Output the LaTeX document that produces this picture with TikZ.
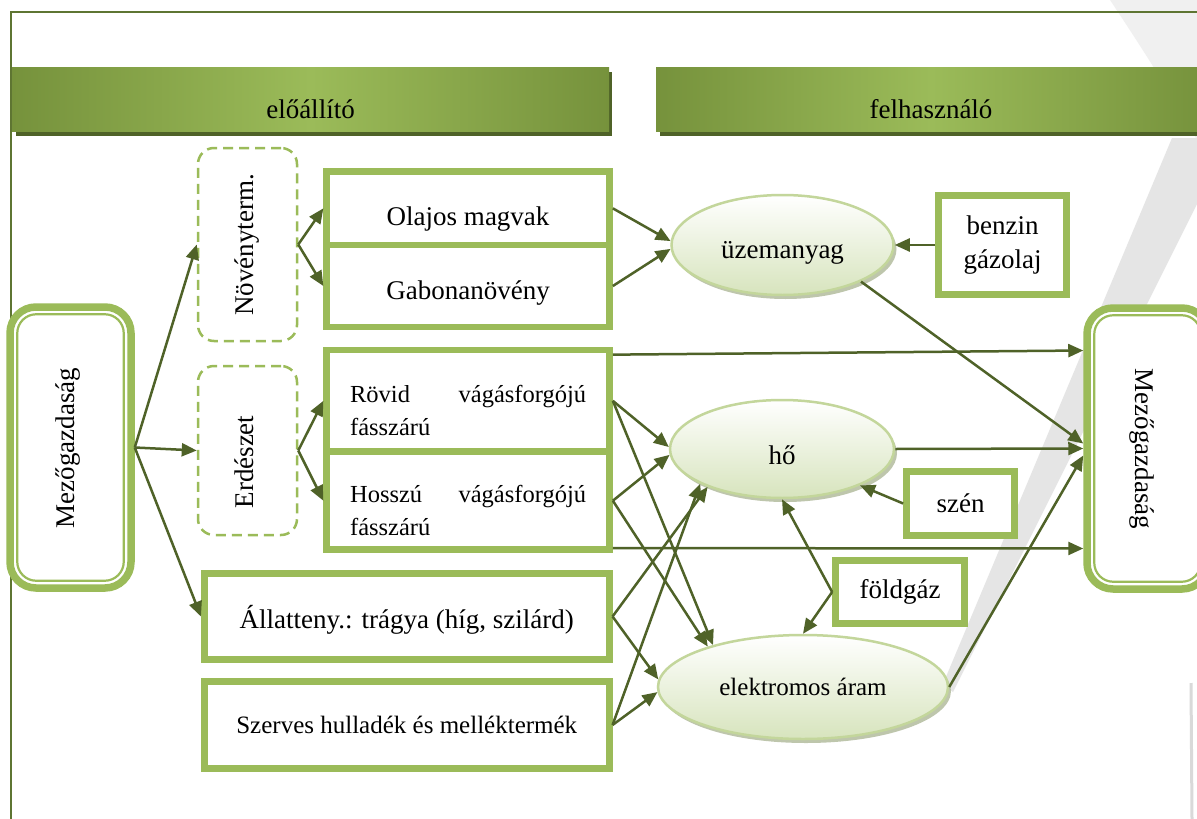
\documentclass[tikz,border=0pt]{standalone}
\usepackage{fontspec}
\setmainfont{Liberation Serif}
\usetikzlibrary{arrows.meta,shapes.geometric,shadows}
\definecolor{grn}{HTML}{9BBB59}
\definecolor{arr}{HTML}{4F6228}
\definecolor{hdark}{HTML}{76923C}
\definecolor{hshadow}{HTML}{4F6228}
\definecolor{framec}{HTML}{5E7532}
\definecolor{ellb}{HTML}{C3D69B}
\definecolor{ellf}{HTML}{D7E4BD}
\definecolor{ellsh}{HTML}{A3AE8A}
\newcommand{\fsA}{\fontsize{27}{34}\selectfont}
\newcommand{\fsB}{\fontsize{25}{30}\selectfont}
\newcommand{\fsC}{\fontsize{24.5}{33}\selectfont}
\newcommand{\dnshift}[2]{\raisebox{-#1}[\height][\depth]{#2}}
\begin{document}
\begin{tikzpicture}[x=1pt,y=-1pt,
  gbox/.style={draw=grn,line width=6.7pt,fill=white,inner sep=0pt,font=\fsA},
  dbox/.style={draw=grn,line width=2.5pt,dash pattern=on 10pt off 6pt,rounded corners=16pt},
  mbox/.style={draw=grn,line width=7.5pt,rounded corners=26pt,fill=white},
  minner/.style={draw=grn,line width=2.2pt,rounded corners=19pt},
  ell/.style={ellipse,draw=ellb,line width=2.5pt,top color=white,bottom color=ellf,inner sep=0pt,
     drop shadow={shadow xshift=3pt,shadow yshift=-4pt,fill=ellsh,opacity=0.7},font=\fsA},
  conn/.style={draw=arr,line width=2.5pt,-{Triangle[length=15pt,width=13pt]}},
  hbar/.style={left color=hdark,right color=hdark,middle color=grn,inner sep=0pt,font=\fsA},
  rtext/.style={font=\fsA,inner sep=0pt}
  ]
\useasboundingbox (0,0) rectangle (1197,819);
\fill[white] (0,0) rectangle (1197,819);
% background decoration
\fill[black!6] (1110,0) .. controls (1140,45) and (1172,95) .. (1197,140) -- (1197,0) -- cycle;
\fill[black!10] (1172,138) -- (1230,138) -- (953,692) -- (943,684) -- cycle;
\draw[black!15,line width=3pt] (1191,683) -- (1192,819);
% frame
\draw[framec,line width=1.8pt] (11,819) -- (11,12) -- (1197,12);
% headers
\fill[hshadow] (16,72) rectangle (612,136);
\node[hbar,minimum width=597pt,minimum height=64pt] (hl) at (310.5,99) {\dnshift{10pt}{előállító}};
\fill[hshadow] (660,72) rectangle (1210,136);
\node[hbar,minimum width=550pt,minimum height=64pt] (hr) at (931,99) {\dnshift{10pt}{felhasználó}};
% Mezogazdasag boxes
\node[mbox,minimum width=121pt,minimum height=281pt] (mezol) at (70.5,447.5) {};
\draw[minner] ([shift={(11,11)}]mezol.north west) rectangle ([shift={(-11,-11)}]mezol.south east);
\node[rtext,rotate=90] (mezoltxt) at (68.5,448) {Mezőgazdaság};
\node[mbox,minimum width=121pt,minimum height=281pt] (mezor) at (1147.5,448.5) {};
\draw[minner] ([shift={(11,11)}]mezor.north west) rectangle ([shift={(-11,-11)}]mezor.south east);
\node[rtext,rotate=-90] (mezortxt) at (1142,449) {Mezőgazdaság};
% dashed boxes
\node[dbox,minimum width=99pt,minimum height=193pt] (noveny) at (247.5,244.5) {};
\node[rtext,rotate=90] (novtxt) at (247,245) {Növényterm.};
\node[dbox,minimum width=99pt,minimum height=169pt] (erdeszet) at (247.5,450.5) {};
\node[rtext,rotate=90] (erdtxt) at (244,462) {Erdészet};
% green boxes
\node[gbox,minimum width=282.8pt,minimum height=73.3pt] (olajos) at (468.1,208.35) {\dnshift{11pt}{Olajos magvak}};
\node[gbox,minimum width=282.8pt,minimum height=82pt] (gabona) at (468.1,286) {\dnshift{7pt}{Gabonanövény}};
\node[gbox,minimum width=282.8pt,minimum height=101.7pt] (rovid) at (468.1,400.85)
  {\dnshift{9.5pt}{\parbox{236pt}{\fsC Rövid\hfill vágásforgójú\\fásszárú}}};
\node[gbox,minimum width=282.8pt,minimum height=98pt] (hosszu) at (468.1,500.7)
  {\dnshift{9.5pt}{\parbox{236pt}{\fsC Hosszú\hfill vágásforgójú\\fásszárú}}};
\node[gbox,minimum width=404.9pt,minimum height=86.4pt] (allat) at (406.75,616.5) {\dnshift{3pt}{Állatteny.: trágya (híg, szilárd)}};
\node[gbox,minimum width=404.9pt,minimum height=86.6pt,font=\fsB] (szerves) at (406.75,725) {Szerves hulladék és melléktermék};
\node[gbox,minimum width=128pt,minimum height=99pt,align=center] (benzin) at (1002.5,245) {benzin\\gázolaj};
\node[gbox,minimum width=108pt,minimum height=64pt] (szen) at (960.5,503.5) {szén};
\node[gbox,minimum width=129pt,minimum height=63pt] (foldgaz) at (900,592) {földgáz};
% ellipses
\node[ell,minimum width=222pt,minimum height=100pt] (uzem) at (782.5,245) {\dnshift{8pt}{üzemanyag}};
\node[ell,minimum width=224pt,minimum height=98pt] (hoe) at (782,449) {\dnshift{6pt}{hő}};
\node[ell,minimum width=290pt,minimum height=104pt,font=\fsB] (elek) at (803,687) {elektromos áram};
% connectors
\draw[conn] (mezol.east) -- (noveny.west);
\draw[conn] (mezol.east) -- (erdeszet.west);
\draw[conn] (mezol.east) -- (allat.west);
\draw[conn] (noveny.east) -- (olajos.west);
\draw[conn] (noveny.east) -- (gabona.west);
\draw[conn] (erdeszet.east) -- (rovid.west);
\draw[conn] (erdeszet.east) -- (hosszu.west);
\draw[conn] (olajos.east) -- (uzem.178);
\draw[conn] (gabona.east) -- (uzem.182);
\draw[conn] (benzin.west) -- (uzem.east);
\draw[conn] (rovid.east) -- (hoe.179);
\draw[conn] (rovid.east) -- (elek.155);
\draw[conn] (hosszu.east) -- (hoe.183);
\draw[conn] (hosszu.east) -- (elek.157);
\draw[conn] (allat.east) -- (hoe.207);
\draw[conn] (allat.east) -- (elek.177);
\draw[conn] (szerves.east) -- (hoe.203);
\draw[conn] (szerves.east) -- (elek.182);
\draw[conn] (szen.west) -- (hoe.335);
\draw[conn] (foldgaz.west) -- (hoe.south);
\draw[conn] (foldgaz.west) -- (elek.north);
\draw[conn] ([yshift=-8pt]rovid.north east) -- ([yshift=98pt]mezor.west);
\draw[conn] ([yshift=5pt]hosszu.south east) -- ([yshift=-100pt]mezor.west);
\draw[conn] (uzem.335) -- ([yshift=5pt]mezor.west);
\draw[conn] (hoe.east) -- (mezor.west);
\draw[conn] (elek.east) -- ([yshift=-7pt]mezor.west);
\end{tikzpicture}
\end{document}
